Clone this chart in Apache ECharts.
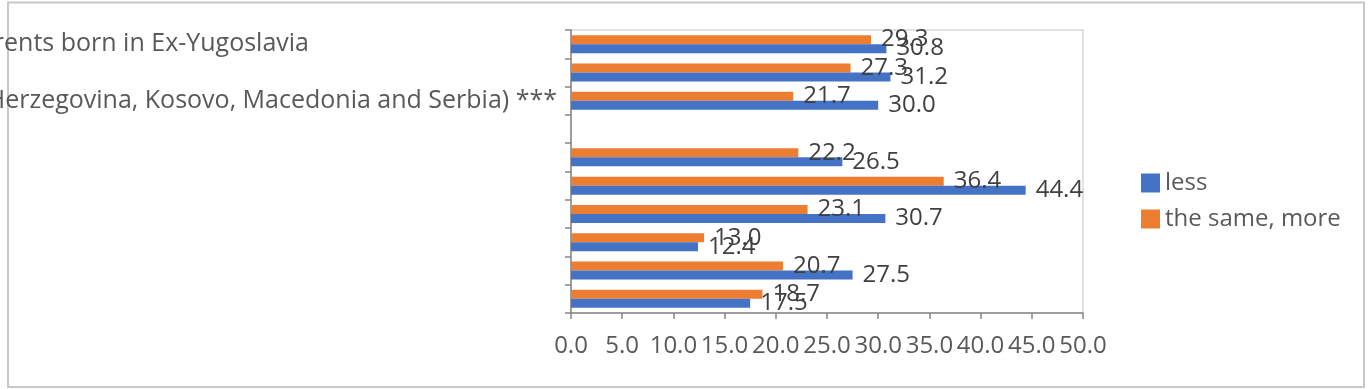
<!DOCTYPE html>
<html>
<head>
<meta charset="utf-8">
<script src="https://cdn.jsdelivr.net/npm/echarts@6/dist/echarts.min.js"></script>
<style>html,body{margin:0;padding:0;background:#fff;}#c{width:1372px;height:389px;}</style>
</head>
<body>
<div id="c"></div>
<script>
// categories, top to bottom (labels that fall outside the picture are blank)
var categories = [
  'parents born in Ex-Yugoslavia',
  ' ',
  '(Bosnia and Herzegovina, Kosovo, Macedonia and Serbia) ***',
  '  ',
  '   ',
  '    ',
  '     ',
  '      ',
  '       ',
  '        '
];
var lessValues = [30.8, 31.2, 30.0, null, 26.5, 44.4, 30.7, 12.4, 27.5, 17.5];
var sameMoreValues = [29.3, 27.3, 21.7, null, 22.2, 36.4, 23.1, 13.0, 20.7, 18.7];
var seriesNames = ['less', 'the same, more'];
// extra right padding of each category label (labels are not all aligned at the axis)
var labelPadRight = [248, 0, 0, 0, 0, 0, 0, 0, 0, 0];

var FONT = '"Open Sans", "Noto Sans", sans-serif';
var chart = echarts.init(document.getElementById('c'), null, {renderer: 'canvas'});
function labelOpt() {
  return {show: true, position: 'right', distance: 10, fontSize: 24, fontFamily: FONT, color: '#404040',
    formatter: function (p) { return p.value == null ? '' : Number(p.value).toFixed(1); }};
}
var yData = categories.map(function (c, i) {
  return {value: c, textStyle: {padding: [0, labelPadRight[i], 0, 0]}};
});
chart.setOption({
  animation: false,
  backgroundColor: '#fff',
  graphic: [{type: 'rect', shape: {x: 8, y: 2.5, width: 1356, height: 384.5},
    style: {fill: 'none', stroke: '#c8c8c8', lineWidth: 2}, silent: true}],
  grid: {left: 571, right: 289, top: 30, bottom: 76, containLabel: false, outerBoundsMode: 'none',
    show: true, borderColor: '#d9d9d9', borderWidth: 1.5},
  legend: {
    orient: 'vertical', left: 1136, top: 166, itemWidth: 19, itemHeight: 19, itemGap: 12,
    icon: 'rect', data: seriesNames,
    textStyle: {fontSize: 24, fontFamily: FONT, color: '#595959'}
  },
  xAxis: {
    type: 'value', min: 0, max: 50, interval: 5,
    axisLine: {show: true, lineStyle: {color: '#868686', width: 1.5}},
    axisTick: {show: true, length: 6, lineStyle: {color: '#868686', width: 1.5}},
    splitLine: {show: false},
    axisLabel: {fontSize: 24, fontFamily: FONT, color: '#595959', margin: 21,
      formatter: function (v) { return v.toFixed(1); }}
  },
  yAxis: {
    type: 'category', inverse: true, data: yData,
    axisLine: {show: true, lineStyle: {color: '#868686', width: 1.5}},
    axisTick: {show: true, length: 6, lineStyle: {color: '#868686', width: 1.5}},
    axisLabel: {interval: 0, fontSize: 25, fontFamily: FONT, color: '#595959', margin: 14}
  },
  series: [
    {name: seriesNames[1], type: 'bar', data: sameMoreValues, barWidth: 9, barGap: '0%',
      itemStyle: {color: '#ED7D31'}, label: labelOpt()},
    {name: seriesNames[0], type: 'bar', data: lessValues, barWidth: 9, barGap: '0%',
      itemStyle: {color: '#4472C4'}, label: labelOpt()}
  ]
});
</script>
</body>
</html>
